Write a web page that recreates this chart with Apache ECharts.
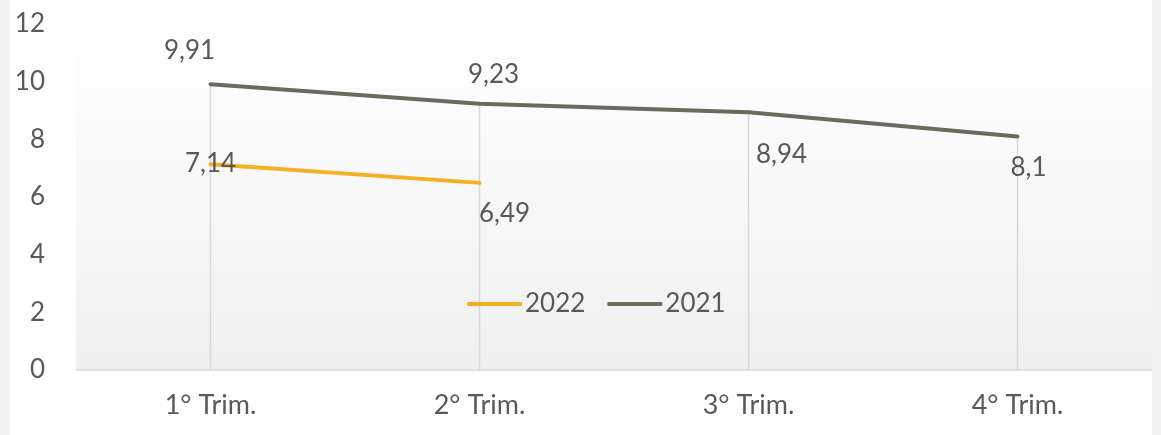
<!DOCTYPE html>
<html><head><meta charset="utf-8">
<script src="https://cdn.jsdelivr.net/npm/echarts@6/dist/echarts.min.js"></script>
<style>html,body{margin:0;padding:0;background:#fff}#c{width:1161px;height:435px}</style>
</head><body><div id="c"></div>
<script>
const categories = ['1° Trim.', '2° Trim.', '3° Trim.', '4° Trim.'];
const values2022 = [7.14, 6.49, null, null];
const values2021 = [9.91, 9.23, 8.94, 8.1];
const seriesNames = ['2022', '2021'];

const FONT = 'Lato';
const TXT = '#595959';
// label offsets (style only)
const off2021 = [[-21, -34], [14, -29], [33, 42], [11, 31]];
const off2022 = [[0, -1], [25, 31], [0, 0], [0, 0]];

function withLabels(vals, offs) {
  return vals.map((v, i) => v == null ? null : ({
    value: v,
    label: { offset: offs[i] }
  }));
}

const chart = echarts.init(document.getElementById('c'), null, { renderer: 'canvas' });
chart.setOption({
  animation: false,
  backgroundColor: '#fff',
  textStyle: { fontFamily: FONT },
  graphic: [
    { type: 'rect', left: 0, top: 0, shape: { width: 10, height: 435 }, style: { fill: '#f2f2f2' }, z: -10 },
    { type: 'rect', right: 0, top: 0, shape: { width: 9, height: 435 }, style: { fill: '#f2f2f2' }, z: -10 }
  ],
  grid: {
    left: 76, right: 9, top: 24, bottom: 65, show: true, borderWidth: 0,
    backgroundColor: new echarts.graphic.LinearGradient(0, 0, 0, 1, [
      { offset: 0, color: '#ffffff' }, { offset: 1, color: '#f0f0f0' }
    ])
  },
  legend: {
    data: seriesNames,
    left: 462, top: 286,
    icon: 'roundRect',
    itemWidth: 55, itemHeight: 4, itemGap: 22,
    textStyle: { color: TXT, fontSize: 26, fontFamily: FONT, padding: [0, 0, 0, -2] }
  },
  xAxis: {
    type: 'category', data: categories, boundaryGap: true,
    axisLine: { lineStyle: { color: '#d9d9d9', width: 1.5 } },
    axisTick: { show: false },
    splitLine: { show: false },
    axisLabel: { color: TXT, fontSize: 27, fontFamily: FONT, margin: 22 }
  },
  yAxis: {
    type: 'value', min: 0, max: 12, interval: 2,
    axisLine: { show: false }, axisTick: { show: false },
    splitLine: { show: false },
    axisLabel: { color: TXT, fontSize: 26, fontFamily: FONT, margin: 31 }
  },
  series: [
    {
      name: 'drop', type: 'bar', data: values2021, barWidth: 1.5, silent: true, z: 1,
      itemStyle: { color: '#d9d9d9' }, legendHoverLink: false
    },
    {
      name: '2022', type: 'line', data: withLabels(values2022, off2022), z: 4,
      symbol: 'circle', symbolSize: 1, connectNulls: false,
      lineStyle: { color: '#F6B026', width: 4, cap: 'round' },
      itemStyle: { color: '#F6B026' },
      label: { show: true, position: 'inside', color: TXT, fontSize: 26, fontFamily: FONT,
        formatter: p => String(p.value).replace('.', ',') }
    },
    {
      name: '2021', type: 'line', data: withLabels(values2021, off2021), z: 3,
      symbol: 'circle', symbolSize: 1,
      lineStyle: { color: '#6A6C5A', width: 4, cap: 'round' },
      itemStyle: { color: '#6A6C5A' },
      label: { show: true, position: 'inside', color: TXT, fontSize: 26, fontFamily: FONT,
        formatter: p => String(p.value).replace('.', ',') }
    }
  ]
});
</script></body></html>
